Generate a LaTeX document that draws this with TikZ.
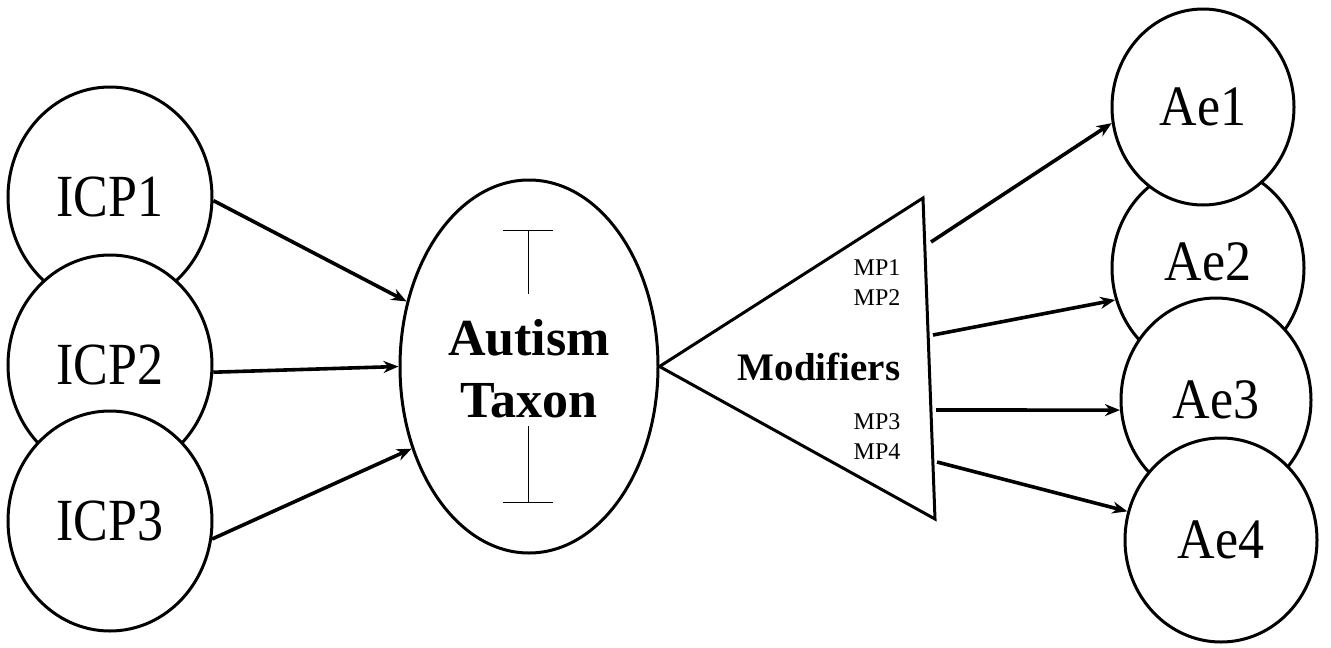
\documentclass[tikz,border=0pt]{standalone}
\usepackage{fontspec}
\setmainfont{Liberation Serif}
\usetikzlibrary{arrows.meta,shapes.geometric}
\newcommand{\tallt}[2]{\scalebox{1}[#1]{#2}}
\begin{document}
\begin{tikzpicture}[x=1pt,y=-1pt,
  oval/.style={ellipse,draw,line width=3pt,fill=white,inner sep=0pt},
  icp/.style={oval,minimum width=204pt,minimum height=220pt,font=\fontsize{52}{52}\selectfont},
  ae/.style={oval,font=\fontsize{52}{52}\selectfont},
  arr/.style={line width=3.6pt,-{Stealth[length=15pt,width=12pt]}},
  tbar/.style={line width=1pt},
  mp/.style={font=\fontsize{24}{30}\selectfont,align=center,inner sep=0pt}]
\useasboundingbox[fill=white] (0,0) rectangle (1331,648);
% left ovals
\node[icp] (icp1) at (110,197) {\tallt{1.15}{ICP1}};
\node[icp] (icp2) at (110,365) {\tallt{1.15}{ICP2}};
\node[icp] (icp3) at (110,521) {\tallt{1.15}{ICP3}};
% central ellipse
\node[oval,minimum width=258pt,minimum height=373pt] (taxon) at (529,366.5) {};
\node[font=\bfseries\fontsize{52}{62}\selectfont,align=center] (taxtext) at (529,369) {Autism\\Taxon};
\draw[tbar] (503,230) -- (553,230) (528,230) -- (528,294);
\draw[tbar] (503,502) -- (553,502) (528,502) -- (528,426);
% triangle
\coordinate (apex) at (taxon.east);
\coordinate (ttop) at (923,198);
\coordinate (tbot) at (935,519);
\draw[line width=3pt,line join=miter] (apex) -- (ttop) -- (tbot) -- cycle;
\node[font=\bfseries\fontsize{39}{39}\selectfont] (mod) at (819,367) {Modifiers};
\node[mp] (mp12) at (877,283) {MP1\\MP2};
\node[mp] (mp34) at (877,437) {MP3\\MP4};
% right ovals
\node[ae,minimum width=192pt,minimum height=206pt] (ae2) at (1208,268) {};
\node[font=\fontsize{52}{52}\selectfont] (ae2t) at (1208,262) {\tallt{1.1}{Ae2}};
\node[ae,minimum width=182pt,minimum height=196pt] (ae1) at (1203,107) {\tallt{1.1}{Ae1}};
\node[ae,minimum width=190pt,minimum height=204pt] (ae3) at (1216,400) {\tallt{1.1}{Ae3}};
\node[ae,minimum width=192pt,minimum height=204pt] (ae4) at (1221,540) {\tallt{1.1}{Ae4}};
% left arrows
\draw[arr] (icp1.-2) -- (taxon.152);
\draw[arr] (icp2.-4) -- (taxon.180);
\draw[arr] (icp3.-10) -- (taxon.215);
% right arrows
\coordinate (s1) at (931,242);
\coordinate (s2) at (933,335);
\coordinate (s3) at (936,410);
\coordinate (s4) at (937,462);
\draw[arr] (s1) -- (ae1.190);
\draw[arr] (s2) -- (ae2.199);
\draw[arr] (s3) -- (ae3.186);
\draw[arr] (s4) -- (ae4.163);
\end{tikzpicture}
\end{document}
